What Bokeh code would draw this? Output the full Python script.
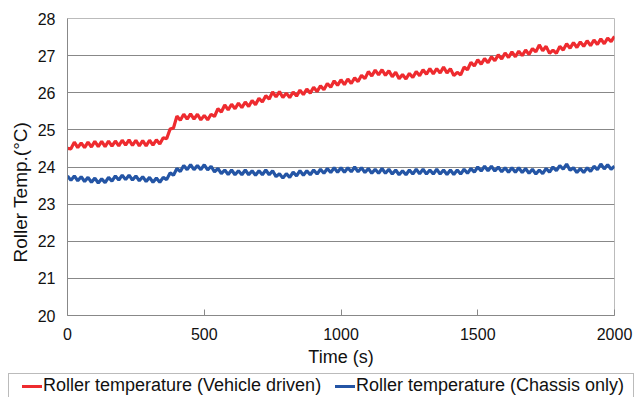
from bokeh.plotting import figure
from bokeh.layouts import column
from bokeh.models import Range1d, FixedTicker, Title, Div
from bokeh.embed import file_html
from bokeh.resources import INLINE

time_s = [0, 12.5, 25, 37.5, 50, 62.5, 75, 87.5, 100, 112.5, 125, 137.5, 150, 162.5, 175, 187.5,
          200, 212.5, 225, 237.5, 250, 262.5, 275, 287.5, 300, 312.5, 325, 337.5, 350, 362.5, 375, 387.5,
          400, 412.5, 425, 437.5, 450, 462.5, 475, 487.5, 500, 512.5, 525, 537.5, 550, 562.5, 575, 587.5,
          600, 612.5, 625, 637.5, 650, 662.5, 675, 687.5, 700, 712.5, 725, 737.5, 750, 762.5, 775, 787.5,
          800, 812.5, 825, 837.5, 850, 862.5, 875, 887.5, 900, 912.5, 925, 937.5, 950, 962.5, 975, 987.5,
          1000, 1012.5, 1025, 1037.5, 1050, 1062.5, 1075, 1087.5, 1100, 1112.5, 1125, 1137.5, 1150, 1162.5, 1175, 1187.5,
          1200, 1212.5, 1225, 1237.5, 1250, 1262.5, 1275, 1287.5, 1300, 1312.5, 1325, 1337.5, 1350, 1362.5, 1375, 1387.5,
          1400, 1412.5, 1425, 1437.5, 1450, 1462.5, 1475, 1487.5, 1500, 1512.5, 1525, 1537.5, 1550, 1562.5, 1575, 1587.5,
          1600, 1612.5, 1625, 1637.5, 1650, 1662.5, 1675, 1687.5, 1700, 1712.5, 1725, 1737.5, 1750, 1762.5, 1775, 1787.5,
          1800, 1812.5, 1825, 1837.5, 1850, 1862.5, 1875, 1887.5, 1900, 1912.5, 1925, 1937.5, 1950, 1962.5, 1975, 1987.5,
          2000]

vehicle_driven = [24.50, 24.49, 24.67, 24.52, 24.65, 24.52, 24.67, 24.54, 24.69, 24.55, 24.69, 24.55, 24.70, 24.56, 24.70, 24.57,
                  24.72, 24.59, 24.73, 24.58, 24.72, 24.57, 24.71, 24.57, 24.72, 24.59, 24.73, 24.62, 24.79, 24.76, 25.02, 25.05,
                  25.37, 25.26, 25.42, 25.29, 25.43, 25.29, 25.42, 25.27, 25.39, 25.27, 25.42, 25.36, 25.57, 25.48, 25.67, 25.54,
                  25.69, 25.57, 25.72, 25.60, 25.75, 25.63, 25.79, 25.68, 25.85, 25.75, 25.92, 25.83, 26.02, 25.89, 26.03, 25.87,
                  25.99, 25.87, 26.02, 25.91, 26.07, 25.95, 26.10, 25.99, 26.15, 26.03, 26.19, 26.08, 26.25, 26.15, 26.32, 26.20,
                  26.35, 26.22, 26.37, 26.25, 26.40, 26.30, 26.47, 26.38, 26.57, 26.45, 26.61, 26.48, 26.62, 26.47, 26.59, 26.43,
                  26.55, 26.38, 26.49, 26.37, 26.52, 26.41, 26.57, 26.46, 26.62, 26.50, 26.65, 26.51, 26.65, 26.53, 26.69, 26.53,
                  26.65, 26.46, 26.55, 26.48, 26.69, 26.62, 26.82, 26.72, 26.89, 26.77, 26.92, 26.81, 26.97, 26.86, 27.02, 26.91,
                  27.07, 26.95, 27.10, 26.97, 27.12, 27.00, 27.15, 27.03, 27.19, 27.10, 27.29, 27.13, 27.25, 27.06, 27.15, 27.06,
                  27.25, 27.15, 27.32, 27.20, 27.35, 27.22, 27.37, 27.25, 27.40, 27.27, 27.42, 27.30, 27.45, 27.32, 27.47, 27.38,
                  27.52]

chassis_only = [23.76, 23.64, 23.76, 23.63, 23.74, 23.61, 23.72, 23.59, 23.70, 23.57, 23.68, 23.58, 23.72, 23.62, 23.76, 23.65,
                23.78, 23.66, 23.78, 23.65, 23.76, 23.63, 23.74, 23.61, 23.72, 23.59, 23.70, 23.59, 23.72, 23.66, 23.84, 23.78,
                23.96, 23.88, 24.04, 23.93, 24.06, 23.93, 24.04, 23.93, 24.06, 23.92, 24.02, 23.87, 23.96, 23.82, 23.92, 23.80,
                23.92, 23.79, 23.90, 23.79, 23.92, 23.79, 23.90, 23.78, 23.90, 23.79, 23.92, 23.79, 23.90, 23.74, 23.82, 23.70,
                23.82, 23.72, 23.86, 23.76, 23.90, 23.78, 23.90, 23.79, 23.92, 23.81, 23.94, 23.83, 23.96, 23.85, 23.98, 23.86,
                23.98, 23.86, 23.98, 23.87, 24.00, 23.87, 23.98, 23.85, 23.96, 23.83, 23.94, 23.83, 23.96, 23.83, 23.94, 23.81,
                23.92, 23.79, 23.90, 23.79, 23.92, 23.81, 23.94, 23.82, 23.94, 23.81, 23.92, 23.81, 23.94, 23.81, 23.92, 23.80,
                23.92, 23.80, 23.92, 23.81, 23.94, 23.83, 23.96, 23.86, 24.00, 23.89, 24.02, 23.90, 24.02, 23.89, 24.00, 23.87,
                23.98, 23.86, 23.98, 23.86, 23.98, 23.85, 23.96, 23.83, 23.94, 23.81, 23.92, 23.82, 23.96, 23.86, 24.00, 23.90,
                24.04, 23.94, 24.08, 23.91, 23.98, 23.85, 23.96, 23.85, 23.98, 23.88, 24.02, 23.93, 24.08, 23.95, 24.06, 23.94,
                24.02]

x_ticks = [0, 500, 1000, 1500, 2000]
y_ticks = [20, 21, 22, 23, 24, 25, 26, 27, 28]
series_labels = ["Roller temperature (Vehicle driven)", "Roller temperature (Chassis only)"]
series_colors = ["#EE2B2F", "#2455A5"]
x_title = "Time (s)"
y_title = "Roller Temp.(\u00b0C)"

FONT = "Liberation Sans"

p = figure(frame_width=547, frame_height=297, output_backend="svg", toolbar_location=None,
           x_range=Range1d(0, 2000), y_range=Range1d(20, 28),
           min_border_left=67, min_border_right=20, min_border_top=18, min_border_bottom=58)

r1 = p.line(time_s, vehicle_driven, line_color=series_colors[0], line_width=3.2)
r2 = p.line(time_s, chassis_only, line_color=series_colors[1], line_width=3.2)

p.outline_line_color = "#BBBBBB"
p.outline_line_width = 1

p.xgrid.visible = False
p.ygrid.ticker = FixedTicker(ticks=y_ticks)
p.ygrid.grid_line_color = "#888888"
p.ygrid.grid_line_width = 1

p.xaxis.ticker = FixedTicker(ticks=x_ticks)
p.yaxis.ticker = FixedTicker(ticks=y_ticks)
p.xaxis.axis_label = x_title

for ax in (p.xaxis[0], p.yaxis[0]):
    ax.axis_line_color = "#888888"
    ax.major_tick_line_color = "#888888"
    ax.minor_tick_line_color = None
    ax.major_label_text_font = FONT
    ax.major_label_text_font_size = "16px"
    ax.major_label_text_color = "#111111"
    ax.axis_label_text_font = FONT
    ax.axis_label_text_font_size = "18px"
    ax.axis_label_text_font_style = "normal"
    ax.axis_label_text_color = "#111111"

p.xaxis.major_tick_in = 6
p.xaxis.major_tick_out = 0
p.xaxis.major_label_standoff = 12
p.xaxis.axis_label_standoff = 4
p.yaxis.major_tick_in = 0
p.yaxis.major_tick_out = 0
p.yaxis.major_label_standoff = 12

ytitle = Title(text=y_title, align="left", offset=53, standoff=7,
               text_font=FONT, text_font_size="19px", text_font_style="normal",
               text_color="#111111")
p.add_layout(ytitle, "left")

# legend strip below the chart (built from the series labels and colours)
item_style = ("position:absolute; top:0; height:23px; line-height:23px; white-space:nowrap;")
legend_html = (
    "<div style=\"position:relative; box-sizing:border-box; width:626px; height:24px; margin-left:8px; "
    "border:1px solid #BBBBBB; border-bottom:none; background:#FFFFFF; font-family:'Liberation Sans'; "
    "font-size:18px; color:#111111;\">"
    f"<span style=\"position:absolute; left:13px; top:11px; width:20px; height:3px; background:{series_colors[0]};\"></span>"
    f"<span style=\"{item_style} left:34px;\">{series_labels[0]}</span>"
    f"<span style=\"position:absolute; left:326px; top:11px; width:20px; height:3px; background:{series_colors[1]};\"></span>"
    f"<span style=\"{item_style} left:347px;\">{series_labels[1]}</span>"
    "</div>"
)
lg = Div(text=legend_html, width=634, height=24, margin=(0, 0, 0, 0))

layout = column(p, lg, spacing=0)
open("out.html", "w").write(file_html(layout, INLINE))
